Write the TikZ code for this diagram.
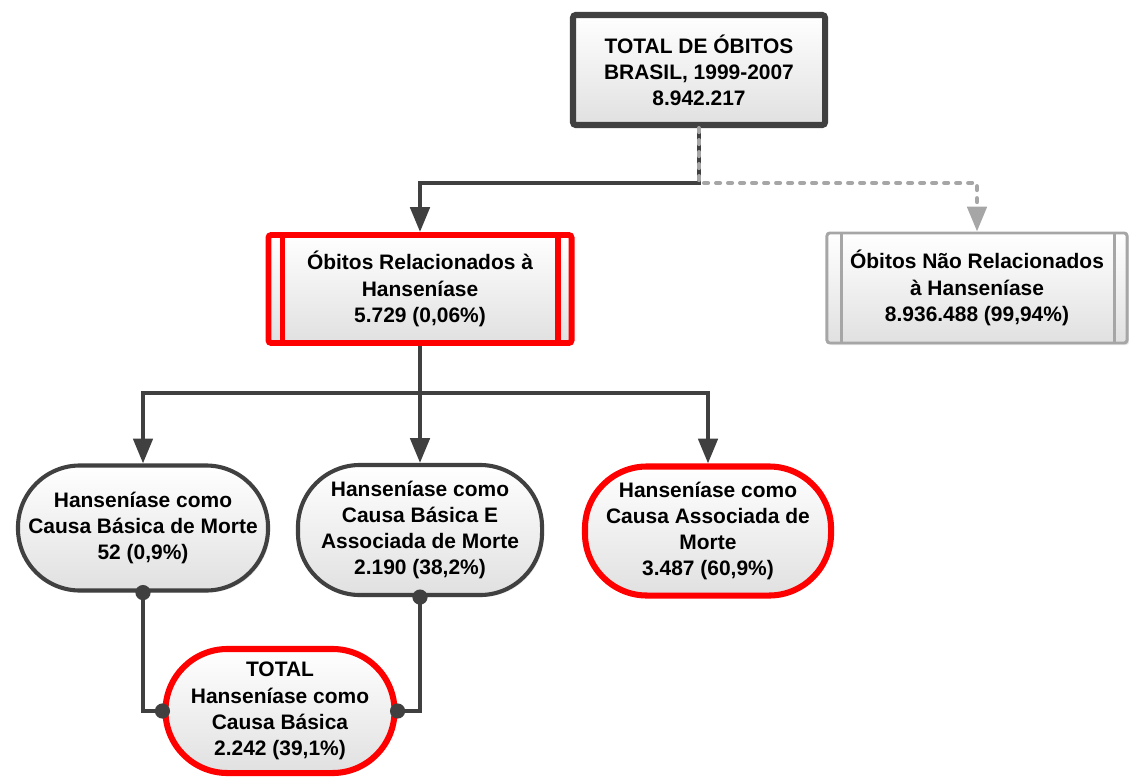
\documentclass[tikz,border=0pt]{standalone}
\usepackage{fontspec}
\setmainfont{Liberation Sans}
\usetikzlibrary{shapes,arrows,arrows.meta,shadows}
\definecolor{darkline}{HTML}{404040}
\definecolor{lightline}{HTML}{A6A6A6}
\definecolor{hotred}{HTML}{FF0000}

\begin{document}
\begin{tikzpicture}[x=0.025cm, y=-0.025cm]
        \tikzstyle{base} = [draw, align=center, inner sep=0pt, font=\bfseries\fontsize{14.9}{18.6}\selectfont, top color=white, bottom color=black!12, drop shadow={opacity=0.18, shadow xshift=0.05cm, shadow yshift=-0.05cm}]
        \tikzstyle{topbox} = [base, rectangle, rounded corners=2pt, draw=darkline, line width=4.3pt, minimum width=6.3cm, minimum height=2.75cm]
        \tikzstyle{subbox} = [base, rectangle, rounded corners=2pt, minimum height=2.7cm]
        \tikzstyle{pill} = [base, rectangle, rounded corners=1.55cm, draw=darkline, line width=2.9pt]
        \tikzstyle{redpill} = [pill, draw=hotred, line width=4.3pt]
        \tikzstyle{line} = [draw=darkline, line width=2.9pt, -{Triangle[length=0.62cm, width=0.48cm]}]
        \tikzstyle{ghost} = [draw=lightline, line width=2.9pt, line cap=round, dash pattern=on 0.1cm off 0.2cm, -{Triangle[length=0.62cm, width=0.48cm, fill=lightline]}]
        \tikzstyle{link} = [draw=darkline, line width=2.9pt]

        \useasboundingbox (0,0) rectangle (1129,781);

        \node [topbox] (total) at (699,70) {TOTAL DE ÓBITOS\\BRASIL, 1999-2007\\8.942.217};
        \node [subbox, draw=hotred, line width=4.2pt, minimum width=7.575cm] (relac) at (420,289) {Óbitos Relacionados à\\Hanseníase\\5.729 (0,06\%)};
        \node [subbox, draw=lightline, line width=2.1pt, minimum width=7.5cm, minimum height=2.75cm] (naorel) at (977,288) {Óbitos Não Relacionados\\à Hanseníase\\8.936.488 (99,94\%)};

        \node [pill, minimum width=6.25cm, minimum height=3.125cm] (basica) at (143,528) {Hanseníase como\\Causa Básica de Morte\\52 (0,9\%)};
        \node [pill, minimum width=6.1cm, minimum height=3.25cm] (ambas) at (420,530) {Hanseníase como\\Causa Básica E\\Associada de Morte\\2.190 (38,2\%)};
        \node [redpill, minimum width=6.15cm, minimum height=3.225cm] (assoc) at (708,531) {Hanseníase como\\Causa Associada de\\Morte\\3.487 (60,9\%)};
        \node [redpill, minimum width=5.725cm, minimum height=3.1cm] (soma) at (280,711) {TOTAL\\Hanseníase como\\Causa Básica\\2.242 (39,1\%)};

        % double bars
        \draw [hotred, line width=4pt] ([xshift=0.42cm]relac.north west) -- ([xshift=0.42cm]relac.south west);
        \draw [hotred, line width=4pt] ([xshift=-0.42cm]relac.north east) -- ([xshift=-0.42cm]relac.south east);
        \draw [lightline, line width=2.1pt] ([xshift=0.4cm]naorel.north west) -- ([xshift=0.4cm]naorel.south west);
        \draw [lightline, line width=2.1pt] ([xshift=-0.36cm]naorel.north east) -- ([xshift=-0.36cm]naorel.south east);

        \coordinate (split) at (699,183);
        \coordinate (fork) at (420,393);

        \path [line] (total.south) -- (split) -| (relac.north);
        \path [ghost] (total.south) -- (split) -| (naorel.north);
        \path [link] (relac.south) -- (fork);
        \path [line] (fork) -| (basica.north);
        \path [line] (fork) -- (ambas.north);
        \path [line] (fork) -| (assoc.north);

        \path [link] (basica.south) |- (soma.west);
        \path [link] (ambas.south) |- (soma.east);
        \fill [darkline] (basica.south) circle (0.19cm) (ambas.south) circle (0.19cm) (soma.west) circle (0.19cm) (soma.east) circle (0.19cm);

    \end{tikzpicture}
\end{document}
